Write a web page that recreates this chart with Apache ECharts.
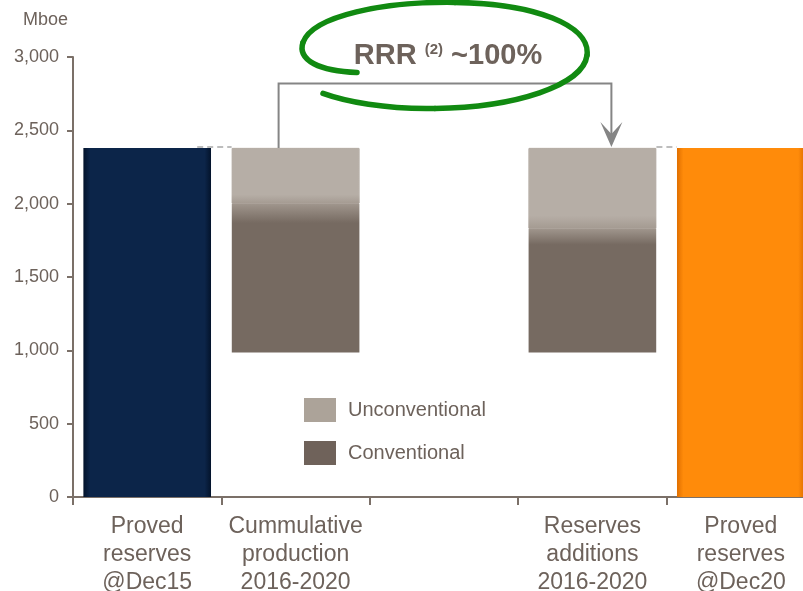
<!DOCTYPE html>
<html>
<head>
<meta charset="utf-8">
<script src="https://cdn.jsdelivr.net/npm/echarts@6/dist/echarts.min.js"></script>
<style>
  html, body { margin: 0; padding: 0; background: #fff; }
  #main { width: 803px; height: 591px; }
</style>
</head>
<body>
<div id="main"></div>
<script>
// data (Mboe)
const categories = [
  'Proved\nreserves\n@Dec15',
  'Cummulative\nproduction\n2016-2020',
  '',
  'Reserves\nadditions\n2016-2020',
  'Proved\nreserves\n@Dec20'
]
const baseValues = ['-', 985, '-', 985, '-']
const conventional = ['-', 1015, '-', 845, '-']
const unconventional = ['-', 380, '-', 550, '-']
const provedReserves = [2380, '-', '-', '-', 2380]

const textColor = '#6d625b'
const axisColor = '#7b7068'
const font = 'Liberation Sans, Arial, sans-serif'

const hGrad = (edge, mid) => new echarts.graphic.LinearGradient(0, 0, 1, 0, [
  { offset: 0, color: edge },
  { offset: 0.05, color: mid },
  { offset: 0.95, color: mid },
  { offset: 1, color: edge },
])
const provedColors = [hGrad('#03132b', '#0c2549'), null, null, null, hGrad('#e06f00', '#ff8b0a')]

const convGrad = new echarts.graphic.LinearGradient(0, 0, 0, 1, [
  { offset: 0, color: '#a0968d' },
  { offset: 0.13, color: '#766a61' },
  { offset: 1, color: '#766a61' },
])
const unconvGrad = new echarts.graphic.LinearGradient(0, 0, 0, 1, [
  { offset: 0, color: '#b6aea6' },
  { offset: 0.84, color: '#b6aea6' },
  { offset: 1, color: '#a49a91' },
])

const chart = echarts.init(document.getElementById('main'))

const option = {
  animation: false,
  title: {
    text: 'Mboe',
    left: 23,
    top: 11,
    padding: 0,
    textStyle: { fontFamily: font, fontSize: 18, fontWeight: 'normal', color: textColor },
  },
  grid: { left: 73, width: 742, top: 57, bottom: 94, outerBoundsMode: 'none' },
  legend: {
    orient: 'vertical',
    left: 304,
    top: 398,
    padding: 0,
    itemWidth: 32,
    itemHeight: 24,
    itemGap: 19,
    icon: 'rect',
    textStyle: { fontFamily: font, fontSize: 20, color: textColor, padding: [0, 0, 0, 7] },
    data: [
      { name: 'Unconventional', itemStyle: { color: '#aca399', borderWidth: 0 } },
      { name: 'Conventional', itemStyle: { color: '#6f625a', borderWidth: 0 } },
    ],
  },
  xAxis: {
    type: 'category',
    data: categories,
    axisLine: { lineStyle: { color: axisColor, width: 2 } },
    axisTick: { show: true, length: 8, lineStyle: { color: axisColor, width: 2 } },
    axisLabel: {
      interval: 0,
      margin: 16,
      fontFamily: font,
      fontSize: 23,
      lineHeight: 28,
      color: textColor,
    },
  },
  yAxis: {
    type: 'value',
    min: 0,
    max: 3000,
    interval: 500,
    splitLine: { show: false },
    axisLine: { show: true, lineStyle: { color: axisColor, width: 2 } },
    axisTick: { show: true, length: 6, lineStyle: { color: axisColor, width: 2 } },
    axisLabel: {
      margin: 14,
      fontFamily: font,
      fontSize: 18,
      color: textColor,
      formatter: (v) => v.toLocaleString('en-US'),
    },
  },
  series: [
    {
      name: 'base',
      type: 'bar',
      stack: 'w',
      barWidth: '86%',
      itemStyle: { color: 'transparent' },
      data: baseValues,
    },
    {
      name: 'Conventional',
      type: 'bar',
      stack: 'w',
      itemStyle: {
        color: convGrad,
        shadowColor: 'rgba(0,0,0,0.3)',
        shadowBlur: 6,
        shadowOffsetX: 2,
        shadowOffsetY: 3,
      },
      data: conventional,
    },
    {
      name: 'Unconventional',
      type: 'bar',
      stack: 'w',
      itemStyle: {
        color: unconvGrad,
        borderColor: unconvGrad,
        borderWidth: 1,
      },
      data: unconventional,
    },
    {
      name: 'Proved reserves',
      type: 'bar',
      stack: 'w',
      itemStyle: {
        shadowColor: 'rgba(0,0,0,0.35)',
        shadowBlur: 6,
        shadowOffsetX: 2,
        shadowOffsetY: 2,
      },
      data: provedReserves.map((v, i) =>
        v === '-' ? v : { value: v, itemStyle: { color: provedColors[i] } }
      ),
    },
  ],
}

chart.setOption(option)

// annotation: dashed connectors, bracket with arrow, RRR label and green loop
const px = (i, v) => chart.convertToPixel({ gridIndex: 0 }, [i, v])
const top0 = px(0, provedReserves[0])
const prodTop = px(1, baseValues[1] + conventional[1] + unconventional[1])
const addTop = px(3, baseValues[3] + conventional[3] + unconventional[3])
const top4 = px(4, provedReserves[4])
const bracketY = px(0, 2820)[1]
const halfBar = 64

const bx1 = prodTop[0] - 17
const bx2 = addTop[0] + 19
const cx = (bx1 + bx2) / 2
const cy = bracketY - 28

// hand-drawn loop, pieces of cubic curves relative to the label centre
const loop = [
  [-88, 17, -125, 16, -148, 5, -142, -13],
  [-142, -13, -132, -40, -60, -54, 10, -53],
  [10, -53, 90, -52, 146, -30, 142, 0],
  [142, 0, 138, 30, 70, 52, -10, 53],
  [-10, 53, -60, 54, -100, 46, -122, 38],
]

const dash = { stroke: '#bdbdbd', lineWidth: 2, lineDash: [6, 4] }

chart.setOption({
  graphic: [
    {
      type: 'line', z: 0,
      shape: { x1: top0[0] + 50, y1: top0[1] - 1, x2: prodTop[0] - halfBar, y2: top0[1] - 1 },
      style: dash,
    },
    {
      type: 'line', z: 0,
      shape: { x1: addTop[0] + halfBar, y1: top4[1] - 1, x2: top4[0] - halfBar, y2: top4[1] - 1 },
      style: dash,
    },
    {
      type: 'polyline', z: 10,
      shape: { points: [[bx1, prodTop[1]], [bx1, bracketY], [bx2, bracketY], [bx2, addTop[1] - 12]] },
      style: { stroke: '#858585', lineWidth: 2, fill: null },
    },
    {
      type: 'polygon', z: 10,
      shape: {
        points: [
          [bx2 - 11, addTop[1] - 26], [bx2, addTop[1] - 14], [bx2 + 11, addTop[1] - 26],
          [bx2, addTop[1] - 1],
        ],
      },
      style: { fill: '#858585' },
    },
    ...loop.map((s) => ({
      type: 'bezierCurve', z: 11,
      shape: {
        x1: cx + s[0], y1: cy + s[1],
        cpx1: cx + s[2], cpy1: cy + s[3],
        cpx2: cx + s[4], cpy2: cy + s[5],
        x2: cx + s[6], y2: cy + s[7],
      },
      style: { stroke: '#118a11', lineWidth: 5.5, fill: null, lineCap: 'round' },
    })),
    {
      type: 'text', z: 12,
      x: cx + 3, y: cy + 1,
      style: {
        text: '{b|RRR }{s|(2)}{b| ~100%}',
        align: 'center',
        verticalAlign: 'middle',
        rich: {
          b: { fontFamily: font, fontSize: 29, fontWeight: 'bold', fill: textColor },
          s: { fontFamily: font, fontSize: 15, fontWeight: 'bold', fill: textColor, verticalAlign: 'top', padding: [0, 0, 12, 0] },
        },
      },
    },
  ],
})

window.addEventListener('resize', () => chart.resize())
</script>
</body>
</html>
